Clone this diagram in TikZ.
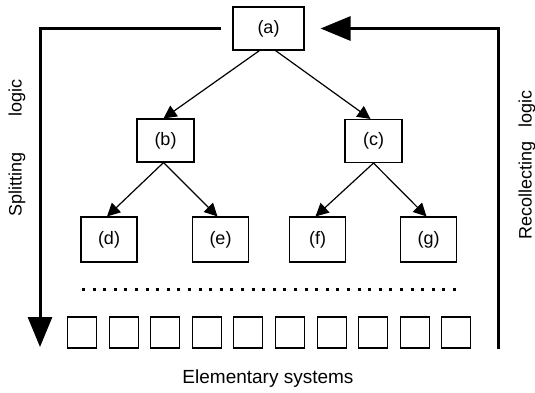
\documentclass[tikz,border=0pt]{standalone}
\usepackage{fontspec}
\setmainfont{Liberation Sans}
\usepackage{tikz}
\usetikzlibrary{arrows.meta}

\begin{document}
\begin{tikzpicture}[
    x=1pt, y=-1pt,
    box/.style={draw, line width=1.1pt, inner sep=0pt,
                minimum width=57pt, minimum height=43pt,
                font=\fontsize{18}{20}\selectfont},
    elem/.style={draw, line width=1.1pt, inner sep=0pt,
                 minimum width=29pt, minimum height=31pt},
    arr/.style={-{Triangle[length=13pt,width=13pt]}, line width=1.2pt},
    bigarr/.style={-{Triangle[length=30pt,width=24pt]}, line width=3pt},
    side/.style={font=\fontsize{18}{20}\selectfont, rotate=90},
  ]
  \useasboundingbox (0,0) rectangle (535,392);

  % ── Tree ─────────────────────────────────────────
  \node[box, minimum width=71pt] (a) at (268.5, 28.5) {(a)};

  \node[box] (b) at (165.5,140.5) {(b)};
  \node[box] (c) at (373.5,141)   {(c)};

  \node[box, minimum width=56pt, minimum height=45pt] (d) at (109,239.5) {(d)};
  \node[box, minimum width=56pt, minimum height=45pt] (e) at (220.5,239.5) {(e)};
  \node[box, minimum width=56pt, minimum height=45pt] (f) at (317.5,239.5) {(f)};
  \node[box, minimum width=56pt, minimum height=45pt] (g) at (428.5,239.5) {(g)};

  \draw[arr] ([xshift=-9pt]a.south) -- ([xshift=-2pt]b.north);
  \draw[arr] ([xshift=7pt]a.south)  -- ([xshift=-3pt]c.north);
  \draw[arr] ([xshift=-2pt]b.south) -- ([xshift=-2pt]d.north);
  \draw[arr] ([xshift=-2pt]b.south) -- ([xshift=-3pt]e.north);
  \draw[arr] (c.south) -- ([xshift=-2pt]f.north);
  \draw[arr] (c.south) -- ([xshift=-2pt]g.north);

  % ── Elementary systems ───────────────────────────
  \draw[line width=3pt, dash pattern=on 3pt off 7.6pt] (82,289) -- (456,289);

  \foreach \i in {0,...,9}
    \node[elem] (elem\i) at (82+\i*41.6, 332.5) {};

  \node[font=\fontsize{19}{21}\selectfont] (elabel) at (268,379) {Elementary systems};

  % ── Splitting / recollecting ─────────────────────
  \coordinate (splitend) at (40,347);
  \coordinate (recolstart) at (498,349);

  \draw[bigarr, shorten <=11pt] (a.west) -| (splitend);
  \draw[bigarr, shorten >=16pt] (recolstart) |- (a.east);

  \node[side] (split) at (17,148) {Splitting\hspace{36pt}logic};
  \node[side] (recol) at (527,165) {Recollecting\hspace{14pt}logic};

\end{tikzpicture}
\end{document}
